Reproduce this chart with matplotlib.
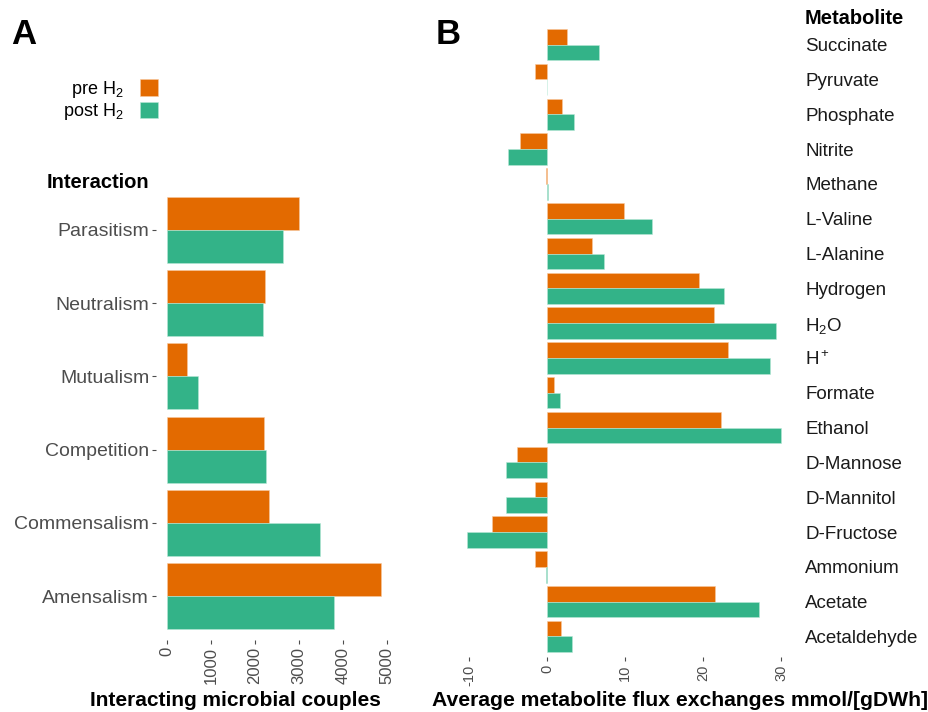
import numpy as np
import matplotlib
matplotlib.use('Agg')
from matplotlib import pyplot as plt

plt.rcParams['font.family'] = ['Liberation Sans', 'DejaVu Sans']
plt.rcParams['mathtext.fontset'] = 'custom'
plt.rcParams['mathtext.rm'] = 'Liberation Sans'
plt.rcParams['mathtext.it'] = 'Liberation Sans:italic'
plt.rcParams['mathtext.bf'] = 'Liberation Sans:bold'

PRE_COL = '#E36A00'
POST_COL = '#33B388'

# panel A: interacting microbial couples (top to bottom)
interactions = ['Parasitism', 'Neutralism', 'Mutualism', 'Competition',
                'Commensalism', 'Amensalism']
couples_pre = [2990, 2240, 460, 2210, 2330, 4850]
couples_post = [2640, 2190, 710, 2260, 3480, 3800]
couples_ticks = [0, 1000, 2000, 3000, 4000, 5000]

# panel B: average metabolite flux exchanges (top to bottom)
metabolites = ['Succinate', 'Pyruvate', 'Phosphate', 'Nitrite', 'Methane',
               'L-Valine', 'L-Alanine', 'Hydrogen', 'H$_2$O', 'H$^+$',
               'Formate', 'Ethanol', 'D-Mannose', 'D-Mannitol', 'D-Fructose',
               'Ammonium', 'Acetate', 'Acetaldehyde']
flux_pre = [2.5, -1.5, 1.9, -3.5, -0.15, 9.9, 5.8, 19.5, 21.4, 23.2,
            0.9, 22.3, -3.9, -1.6, -7.0, -1.6, 21.5, 1.75]
flux_post = [6.6, 0.0, 3.4, -5.0, 0.15, 13.4, 7.3, 22.6, 29.3, 28.6,
             1.6, 30.0, -5.3, -5.3, -10.3, -0.1, 27.1, 3.2]
flux_ticks = [-10, 0, 10, 20, 30]

fig = plt.figure(figsize=(9.29, 7.12), dpi=100)
fig.patch.set_facecolor('white')

h = 0.45


def style_axes(ax):
    for s in ax.spines.values():
        s.set_visible(False)
    ax.set_facecolor('white')


# ---- panel A ----
axA = fig.add_axes([0.168, 0.101, 0.253, 0.638])
y = np.arange(len(interactions))
bA1 = axA.barh(y - h / 2, couples_pre, height=h, color=PRE_COL,
               edgecolor='#F8C9A0', linewidth=0.4, label='pre H$_2$')
bA2 = axA.barh(y + h / 2, couples_post, height=h, color=POST_COL,
               edgecolor='#B8E8D6', linewidth=0.4, label='post H$_2$')
axA.set_ylim(len(interactions) - 0.4, -0.6)
axA.set_xlim(-242, 5090)
axA.set_yticks(y)
axA.set_yticklabels(interactions, fontsize=14, color='#4d4d4d')
axA.set_xticks(couples_ticks)
axA.set_xticklabels([str(t) for t in couples_ticks], rotation=90,
                    fontsize=12, color='#4d4d4d')
axA.tick_params(axis='both', length=3, width=0.8, color='#4d4d4d', pad=2)
style_axes(axA)

# ---- panel B ----
axB = fig.add_axes([0.4855, 0.0767, 0.3724, 0.890])
yb = np.arange(len(metabolites))
axB.barh(yb - h / 2, flux_pre, height=h, color=PRE_COL,
         edgecolor='#F8C9A0', linewidth=0.4)
axB.barh(yb + h / 2, flux_post, height=h, color=POST_COL,
         edgecolor='#B8E8D6', linewidth=0.4)
axB.set_ylim(len(metabolites) - 0.4, -0.6)
axB.set_xlim(-12.3, 32.0)
axB.yaxis.tick_right()
axB.set_yticks(yb)
axB.set_yticklabels(metabolites, fontsize=13.5, color='#1a1a1a')
axB.tick_params(axis='y', length=0, pad=6)
axB.set_xticks(flux_ticks)
axB.set_xticklabels([str(t) for t in flux_ticks], rotation=90,
                    fontsize=10.5, color='#4d4d4d')
axB.tick_params(axis='x', length=3, width=0.8, color='#4d4d4d', pad=2)
style_axes(axB)

# titles and panel letters
fig.text(11 / 929, 1 - 34 / 712, 'A', fontsize=25, fontweight='bold',
         va='center', ha='left')
fig.text(436 / 929, 1 - 34 / 712, 'B', fontsize=25, fontweight='bold',
         va='center', ha='left')
fig.text(47 / 929, 1 - 182 / 712, 'Interaction', fontsize=14.5,
         fontweight='bold', va='center', ha='left')
fig.text(805 / 929, 1 - 19 / 712, 'Metabolite', fontsize=14.5,
         fontweight='bold', va='center', ha='left')
fig.text(235 / 929, 1 - 700 / 712, 'Interacting microbial couples',
         fontsize=15, fontweight='bold', va='center', ha='center')
fig.text(680 / 929, 1 - 700 / 712,
         'Average metabolite flux exchanges mmol/[gDWh]',
         fontsize=15.2, fontweight='bold', va='center', ha='center')

# legend
fig.legend(handles=[bA1, bA2], loc='upper left',
           bbox_to_anchor=(50 / 929, 1 - 66 / 712), frameon=False,
           markerfirst=False, fontsize=13, handlelength=1.0,
           handleheight=1.0, labelspacing=0.1, handletextpad=0.95,
           borderpad=0.2)

fig.savefig('out.png', dpi=100, facecolor='white')
